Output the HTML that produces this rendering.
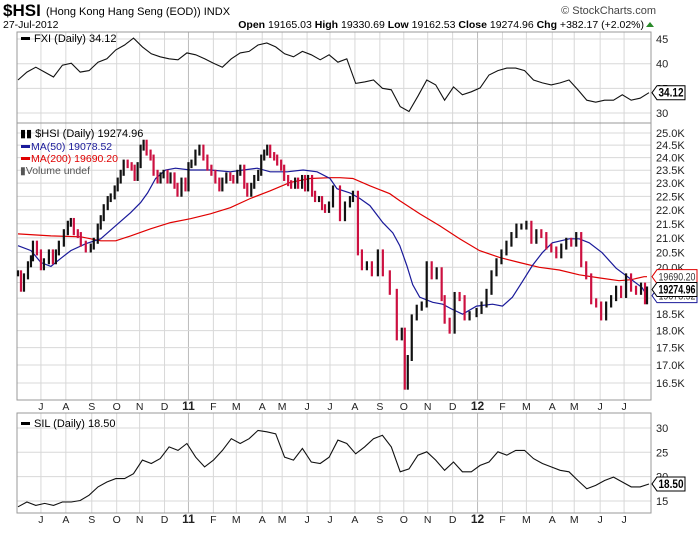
<!DOCTYPE html>
<html><head><meta charset="utf-8"><style>
body{margin:0;background:#fff;font-family:"Liberation Sans",sans-serif;}
svg text{font-family:"Liberation Sans",sans-serif;}
</style></head><body>
<svg id="c" width="700" height="530" viewBox="0 0 700 530" xmlns="http://www.w3.org/2000/svg">
<rect width="700" height="530" fill="#fff"/>
<g>
<text x="3" y="16" font-size="17" font-weight="bold">$HSI</text>
<text x="46" y="15" font-size="11">(Hong Kong Hang Seng (EOD)) INDX</text>
<text x="656" y="14" font-size="11" fill="#444" text-anchor="end">© StockCharts.com</text>
<text x="3" y="28" font-size="10.5">27-Jul-2012</text>
<text x="644" y="28" font-size="10.5" text-anchor="end"><tspan font-weight="bold">Open</tspan> 19165.03 <tspan font-weight="bold">High</tspan> 19330.69 <tspan font-weight="bold">Low</tspan> 19162.53 <tspan font-weight="bold">Close</tspan> 19274.96 <tspan font-weight="bold">Chg</tspan> +382.17 (+2.02%)</text>
<path d="M646 27 L650 22 L654 27Z" fill="#2a8a2a"/>
</g>
<g id="grid"></g>
<g id="marks"></g>
<g id="labels"></g>
</svg>
<script>
// ---- data ----
const monthLabels = ["J","A","S","O","N","D","11","F","M","A","M","J","J","A","S","O","N","D","12","F","M","A","M","J","J"];
const monthSession = [23,48,74,99,122,147,171,196,219,245,265,290,313,338,363,387,411,436,461,486,510,536,558,584,608];
// FXI (evenly spaced samples across the period)
const fxiValues = [36.7,38.3,39.3,38.3,37.3,39.7,40.1,38.3,38.6,40.3,41.0,42.8,43.8,45.2,43.4,42.0,41.4,41.0,40.8,42.2,41.8,41.0,40.1,39.3,41.0,42.2,42.5,43.8,44.2,43.4,42.0,41.4,42.5,41.8,40.8,41.8,40.3,41.0,36.0,36.3,36.7,35.0,34.7,31.3,30.3,33.4,36.7,35.7,32.6,35.3,33.7,34.3,35.1,37.7,38.6,39.1,39.1,38.6,36.7,36.1,35.7,36.1,36.7,34.7,32.6,32.2,32.6,32.6,33.7,32.6,33.0,34.12];
const fxiTicks = [30,35,40,45];
// SIL
const silValues = [13.8,14.8,14.1,14.5,14.1,14.8,14.8,15.1,16.2,17.9,18.9,19.6,19.6,20.6,23.4,22.7,23.7,26.1,25.4,26.8,24.0,22.0,23.4,25.4,27.8,26.8,27.8,29.5,29.2,28.8,24.0,23.4,25.8,23.0,22.7,24.0,27.5,26.8,24.7,26.1,27.8,28.5,26.1,21.0,21.6,24.4,25.1,23.4,21.3,23.0,21.0,21.0,22.3,23.0,25.1,24.4,25.4,25.4,23.7,22.7,22.0,21.3,21.0,19.2,17.5,18.2,19.2,19.9,18.9,17.9,17.9,18.5];
const silTicks = [15,20,25,30];
// HSI closes (session index, value)
const hsiSession = [0,3,6,10,13,15,19,23,26,31,35,38,41,46,50,53,56,60,63,68,73,76,80,83,86,90,93,97,100,103,106,110,114,117,120,123,126,129,133,136,140,143,146,150,153,157,160,164,168,171,174,178,182,186,190,194,198,202,205,209,213,216,220,223,227,230,234,237,241,244,247,250,253,257,260,264,267,271,274,278,281,285,288,291,295,298,302,305,308,312,316,323,328,333,336,341,345,350,355,361,366,373,380,385,388,391,395,400,405,410,415,420,425,428,433,438,443,448,453,460,465,470,475,480,485,490,495,500,505,510,515,520,525,530,535,540,545,550,555,560,565,570,575,580,585,590,595,600,605,610,615,620,625,629,631];
const hsiClose = [19800,19300,19700,20100,20300,20800,20500,20000,20200,20500,20200,20500,20800,21200,21500,21600,21200,21100,20800,20600,20700,20900,21400,21700,22100,22400,22500,22800,23100,23400,23800,23700,23600,23200,23700,24400,24600,24200,24000,23400,23100,23300,23400,23100,23300,22900,22600,23100,22800,23700,23800,24200,24400,24000,23600,23400,23100,22800,23100,23300,23200,23100,23400,23600,22900,22600,22900,23200,23400,24000,24200,24400,24100,24000,23800,23600,23200,23000,22900,23100,22900,23200,22800,23200,22600,22400,22400,22100,22000,22200,22800,21700,22200,22400,22600,20500,20000,20100,19800,20500,19800,19200,17800,18000,16400,17200,18400,18700,18800,20100,19700,19900,19000,18300,18000,19100,19000,18400,18500,18600,18800,19200,19800,20200,20500,20800,21100,21400,21400,21500,20900,21200,21100,20700,20600,20400,20700,20900,20800,21100,20100,19700,18900,18800,18400,18800,19000,19300,19100,19700,19300,19200,19400,18900,19275];
const ma50Session = [0,13,23,33,43,53,68,83,98,113,123,130,138,148,158,173,193,213,226,240,253,270,286,300,313,320,333,343,353,366,376,383,390,396,403,416,426,435,446,460,476,486,496,506,516,526,536,553,563,573,586,600,613,626,631];
const ma50Values = [20730,20560,20160,20030,20300,20560,20800,20970,21430,21900,22270,22630,23180,23510,23580,23510,23510,23440,23510,23580,23440,23440,23510,23440,23180,22790,22630,22420,22160,21540,21180,20730,20060,19430,19030,18870,18810,18660,18500,18750,18810,18750,19030,19530,20060,20490,20830,20970,20970,20830,20490,19970,19650,19340,19080];
const ma200Session = [0,33,63,83,98,113,133,153,173,193,213,233,253,273,293,313,323,336,353,373,383,403,423,443,463,483,503,523,543,563,583,603,615,628,631];
const ma200Values = [21140,21070,21040,20900,20900,21070,21320,21540,21680,21860,22080,22420,22710,23030,23180,23210,23210,23180,22900,22600,22340,21860,21430,20970,20560,20330,20160,20000,19910,19750,19650,19560,19590,19690,19690];
const hsiTicks = [16500,17000,17500,18000,18500,19000,19500,20000,20500,21000,21500,22000,22500,23000,23500,24000,24500,25000];

// ---- geometry ----
const X0=17, X1=651, NS=633;
const xs = s => X0 + 1 + s*(X1-X0-3)/NS;
const xe = (i,n) => X0 + 1 + i*(X1-X0-3)/(n-1);
const yFxi = v => 113 - (v-30)*4.93;
const ySil = v => 501 - (v-15)*4.87;
const yHsi = v => 133 + 601.7*Math.log(25000/v);
const NS_="http://www.w3.org/2000/svg";
const grid=document.getElementById('grid'), marks=document.getElementById('marks'), labels=document.getElementById('labels');
function mk(tag, attrs, parent){const e=document.createElementNS(NS_,tag);for(const k in attrs)e.setAttribute(k,attrs[k]);parent.appendChild(e);return e;}

const panels=[{y0:32,y1:123,n:'fxi-panel'},{y0:123,y1:400,n:'hsi-panel'},{y0:413,y1:513,n:'sil-panel'}];
panels.forEach(p=>{
  monthSession.forEach((s,i)=>{
    const l=mk('line',{x1:xs(s),x2:xs(s),y1:p.y0,y2:p.y1,stroke:(monthLabels[i]=='11'||monthLabels[i]=='12')?'#bbb':'#d8d8d8','stroke-width':1},grid);
    
    
  });
});
function hgrid(ticks,yf,fmt,pre){
  ticks.forEach(t=>{
    const y=yf(t);
    const l=mk('line',{x1:X0,x2:X1,y1:y,y2:y,stroke:'#d8d8d8'},grid);
    
    
    const tx=mk('text',{x:656,y:y+4,'font-size':11,fill:'#222'},labels);
    tx.textContent=fmt(t);
    
    
  });
}
hgrid(fxiTicks,yFxi,t=>String(t),'fxi-y');
hgrid(hsiTicks,yHsi,t=>(t/1000).toFixed(1)+'K','hsi-y');
hgrid(silTicks,ySil,t=>String(t),'sil-y');
panels.forEach(p=>{
  const r=mk('rect',{x:X0,y:p.y0,width:X1-X0,height:p.y1-p.y0,fill:'none',stroke:'#999'},grid);
  
  
});
[410,523].forEach((yy,k)=>{
  monthSession.forEach((s,i)=>{
    const bold=(monthLabels[i]=='11'||monthLabels[i]=='12');
    const t=mk('text',{x:xs(s),y:yy,'font-size':bold?12:10.5,'font-weight':bold?'bold':'normal','text-anchor':'middle',fill:'#222'},labels);
    t.textContent=monthLabels[i];
    
    
  });
});
function poly(vals,xf,yf,color,w,name){
  const pts=vals.map((v,i)=>xf(i).toFixed(1)+','+yf(v).toFixed(1)).join(' ');
  const p=mk('polyline',{points:pts,fill:'none',stroke:color,'stroke-width':w},marks);
  
  
}
poly(fxiValues,i=>xe(i,fxiValues.length),yFxi,'#111',1.1,'fxi-line');
poly(silValues,i=>xe(i,silValues.length),ySil,'#111',1.1,'sil-line');
poly(ma200Values,i=>xs(ma200Session[i]),yHsi,'#e00000',1.2,'ma200-line');
poly(ma50Values,i=>xs(ma50Session[i]),yHsi,'#1a1a9a',1.2,'ma50-line');
hsiClose.forEach((v,i)=>{
  const prev=i>0?hsiClose[i-1]:v;
  const y1=Math.min(yHsi(v),yHsi(prev))-3, y2=Math.max(yHsi(v),yHsi(prev))+3;
  const b=mk('line',{x1:xs(hsiSession[i]),x2:xs(hsiSession[i]),y1:y1,y2:y2,stroke:v>=prev?'#111':'#cc1040','stroke-width':2.2},marks);
  
  
});
function tag(y,txt,color,bold,name,w){
  const g=mk('g',{},labels);
  
  
  mk('path',{d:`M652 ${y} L657 ${y-7} L${657+w} ${y-7} L${657+w} ${y+7} L657 ${y+7} Z`,fill:'#fff',stroke:color,'stroke-width':1},g);
  const t=mk('text',{x:658.5,y:y+4,'font-size':bold?12:11,'font-weight':bold?'bold':'normal',fill:bold?'#000':'#333',textLength:w-3,lengthAdjust:'spacingAndGlyphs'},g);
  t.textContent=txt;
}
tag(yHsi(19078.52),'19078.52','#1a1a9a',false,'ma50-value-tag',40);
tag(yHsi(19690.20),'19690.20','#e00000',false,'ma200-value-tag',40);
tag(yHsi(19274.96),'19274.96','#000',true,'hsi-value-tag',40);
tag(yFxi(34.12),'34.12','#000',true,'fxi-value-tag',28);
tag(ySil(18.50),'18.50','#000',true,'sil-value-tag',28);
</script>
<div style="position:absolute;left:0;top:0;width:700px;height:530px;pointer-events:none">
<svg width="700" height="530" style="position:absolute;left:0;top:0">
<g><rect x="21" y="37" width="9" height="3" fill="#000"/><text x="34" y="42" font-size="11" font-family="Liberation Sans">FXI (Daily) 34.12</text></g>
<g>
<text x="20" y="137" font-size="11" font-family="Liberation Sans">▮▮ $HSI (Daily) 19274.96</text>
<rect x="21" y="145" width="9" height="3" fill="#1a1a9a"/><text x="31" y="150" font-size="10.5" fill="#1a1a9a" font-family="Liberation Sans">MA(50) 19078.52</text>
<rect x="21" y="157" width="9" height="3" fill="#e00000"/><text x="31" y="162" font-size="10.5" fill="#e00000" font-family="Liberation Sans">MA(200) 19690.20</text>
<text x="20" y="174" font-size="10.5" fill="#555" font-family="Liberation Sans">▮Volume undef</text></g>
<g><rect x="21" y="422" width="9" height="3" fill="#000"/><text x="34" y="427" font-size="11" font-family="Liberation Sans">SIL (Daily) 18.50</text></g>
</svg></div>
</body></html>
